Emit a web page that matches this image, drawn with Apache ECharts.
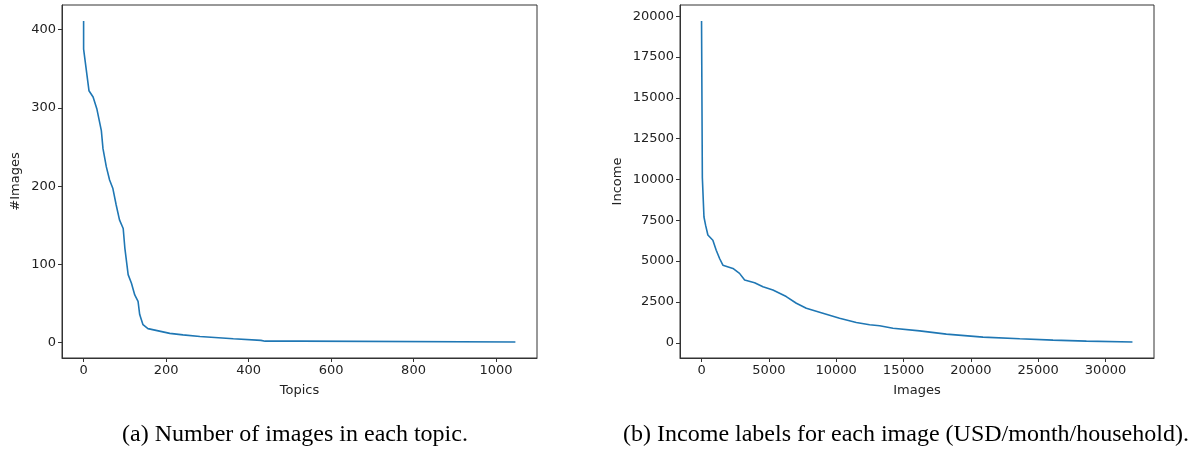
<!DOCTYPE html>
<html>
<head>
<meta charset="utf-8">
<script src="https://cdn.jsdelivr.net/npm/echarts@6/dist/echarts.min.js"></script>
<style>
  html, body { margin: 0; padding: 0; background: #fff; }
  #chart { width: 1190px; height: 450px; }
</style>
</head>
<body>
<div id="chart"></div>
<script>
// (a) images per topic, sorted
var topicX = [0, 0, 13, 23, 32, 43, 47, 55, 63, 71, 79, 87, 96, 100, 108, 116, 124, 132, 136, 144, 156, 209, 241, 282, 363, 430, 440, 525, 526, 1047];
var topicY = [411, 375, 322, 314, 299, 271, 248, 225, 208, 197, 176, 157, 146, 121, 87, 76, 61, 53, 36, 23, 18, 12, 10, 8, 5, 3, 2, 2, 1, 1];

// (b) income label per image, sorted
var imageX = [0, 50, 60, 170, 180, 300, 470, 840, 1090, 1340, 1585, 2330, 2820, 3200, 3940, 4560, 5300, 6290, 7040, 7780, 9010, 10250, 11490, 12480, 13225, 14215, 16200, 18180, 20900, 23630, 26100, 28580, 32000];
var incomeY = [19700, 19650, 10100, 10100, 7700, 7200, 6600, 6280, 5670, 5160, 4750, 4550, 4250, 3840, 3680, 3430, 3230, 2830, 2420, 2110, 1810, 1500, 1240, 1100, 1040, 890, 730, 530, 345, 245, 165, 100, 50];

// tick labels
var ticksTopics = [0, 200, 400, 600, 800, 1000];
var ticksCount = [0, 100, 200, 300, 400];
var ticksImages = [0, 5000, 10000, 15000, 20000, 25000, 30000];
var ticksIncome = [0, 2500, 5000, 7500, 10000, 12500, 15000, 17500, 20000];

function pairs(xs, ys) {
  return xs.map(function (x, i) { return [x, ys[i]]; });
}

var ink = '#333';
var labelFont = { fontFamily: 'DejaVu Sans', fontSize: 13, color: '#222' };
var captionFont = { fontFamily: 'Liberation Serif', fontSize: 24, fontWeight: 'normal', color: '#000' };

function axis(extra, ticks) {
  var a = {
    type: 'value',
    splitLine: { show: false },
    axisLine: { show: true, onZero: false, lineStyle: { color: ink, width: 1 } },
    axisTick: { show: true, length: 4, lineStyle: { color: ink }, customValues: ticks },
    axisLabel: Object.assign({
      margin: 6,
      customValues: ticks,
      formatter: function (v) { return String(v); }
    }, labelFont),
    nameLocation: 'middle',
    nameTextStyle: labelFont
  };
  return Object.assign(a, extra);
}

var chart = echarts.init(document.getElementById('chart'));

var option = {
  animation: false,
  backgroundColor: '#fff',
  title: [
    {
      text: '(a) Number of images in each topic.',
      left: 290, top: 418, textAlign: 'center',
      textStyle: captionFont
    },
    {
      text: '(b) Income labels for each image (USD/month/household).',
      left: 901, top: 418, textAlign: 'center',
      textStyle: captionFont
    }
  ],
  grid: [
    { left: 62, top: 5, width: 475, height: 353, show: true, borderColor: ink, borderWidth: 1 },
    { left: 680, top: 5, width: 474, height: 353, show: true, borderColor: ink, borderWidth: 1 }
  ],
  xAxis: [
    axis({ gridIndex: 0, min: -52.4, max: 1099.4, name: 'Topics', nameGap: 26 }, ticksTopics),
    axis({ gridIndex: 1, min: -1600, max: 33600, name: 'Images', nameGap: 26 }, ticksImages)
  ],
  yAxis: [
    axis({ gridIndex: 0, min: -19.5, max: 431.5, name: '#Images', nameGap: 40 }, ticksCount),
    axis({ gridIndex: 1, min: -932, max: 20682, name: 'Income', nameGap: 56 }, ticksIncome)
  ],
  series: [
    {
      type: 'line', xAxisIndex: 0, yAxisIndex: 0,
      data: pairs(topicX, topicY),
      showSymbol: false,
      lineStyle: { color: '#1f77b4', width: 1.6 }
    },
    {
      type: 'line', xAxisIndex: 1, yAxisIndex: 1,
      data: pairs(imageX, incomeY),
      showSymbol: false,
      lineStyle: { color: '#1f77b4', width: 1.6 }
    }
  ]
};

chart.setOption(option);
</script>
</body>
</html>
